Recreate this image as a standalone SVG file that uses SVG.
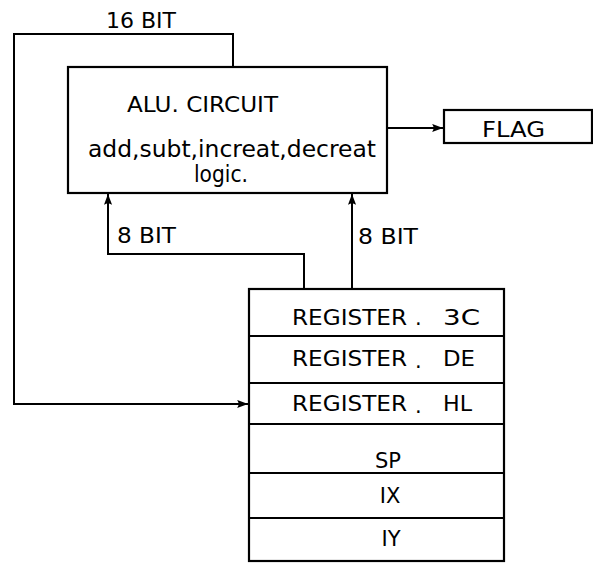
<svg xmlns="http://www.w3.org/2000/svg" width="593" height="570" viewBox="0 0 593 570">
<defs>
<marker id="arr" viewBox="0 0 12 10" refX="12" refY="5" markerWidth="12" markerHeight="9" markerUnits="userSpaceOnUse" orient="auto">
<path d="M0,0.5 L12,5 L0,9.5 L2,5 Z" fill="#000"/>
</marker>
</defs>
<style>
.box{fill:#fff;stroke:#000;stroke-width:2.2}
.ln{fill:none;stroke:#000;stroke-width:2}
.t{font-family:"DejaVu Sans","Liberation Sans",sans-serif;font-size:21px;fill:#000}
.tm{text-anchor:middle}
</style>
<rect width="593" height="570" fill="#fff"/>
<g id="connectors">
<path class="ln" d="M233,67 V34 H14 V404 H248" marker-end="url(#arr)"/>
<path class="ln" d="M387,128 H443" marker-end="url(#arr)"/>
<path class="ln" d="M304,289 V254 H108 V194" marker-end="url(#arr)"/>
<path class="ln" d="M352,289 V194" marker-end="url(#arr)"/>
<text class="t" x="106" y="28" textLength="70" lengthAdjust="spacingAndGlyphs">16 BIT</text>
<text class="t" x="117" y="243" textLength="59" lengthAdjust="spacingAndGlyphs">8 BIT</text>
<text class="t" x="358" y="244" textLength="60" lengthAdjust="spacingAndGlyphs">8 BIT</text>
</g>
<g id="alu">
<rect class="box" x="68" y="67" width="319" height="126"/>
<text class="t" x="127" y="112" textLength="151" lengthAdjust="spacingAndGlyphs">ALU. CIRCUIT</text>
<text class="t" x="88" y="157" textLength="288" lengthAdjust="spacingAndGlyphs" style="font-size:23px">add,subt,increat,decreat</text>
<text class="t" x="194" y="182" textLength="54" lengthAdjust="spacingAndGlyphs" style="font-size:23px">logic.</text>
</g>
<g id="flag">
<rect class="box" x="444" y="110" width="148" height="33"/>
<text class="t" x="482" y="137" textLength="63" lengthAdjust="spacingAndGlyphs">FLAG</text>
</g>
<g id="registers">
<rect class="box" x="249" y="289" width="255" height="272"/>
<path class="ln" d="M249,336 H504 M249,383 H504 M249,424 H504 M249,473 H504 M249,518 H504"/>
<text class="t" x="292" y="325" textLength="115" lengthAdjust="spacingAndGlyphs">REGISTER</text>
<text class="t" x="415" y="325">.</text>
<text class="t" x="443" y="325" textLength="37" lengthAdjust="spacingAndGlyphs">3C</text>
<text class="t" x="292" y="366" textLength="115" lengthAdjust="spacingAndGlyphs">REGISTER</text>
<text class="t" x="415" y="368">.</text>
<text class="t" x="443" y="366" textLength="32" lengthAdjust="spacingAndGlyphs">DE</text>
<text class="t" x="292" y="411" textLength="115" lengthAdjust="spacingAndGlyphs">REGISTER</text>
<text class="t" x="415" y="413">.</text>
<text class="t" x="443" y="411" textLength="29" lengthAdjust="spacingAndGlyphs">HL</text>
<text class="t tm" x="388" y="468">SP</text>
<text class="t tm" x="390" y="503">IX</text>
<text class="t tm" x="391" y="546">IY</text>
</g>
</svg>
